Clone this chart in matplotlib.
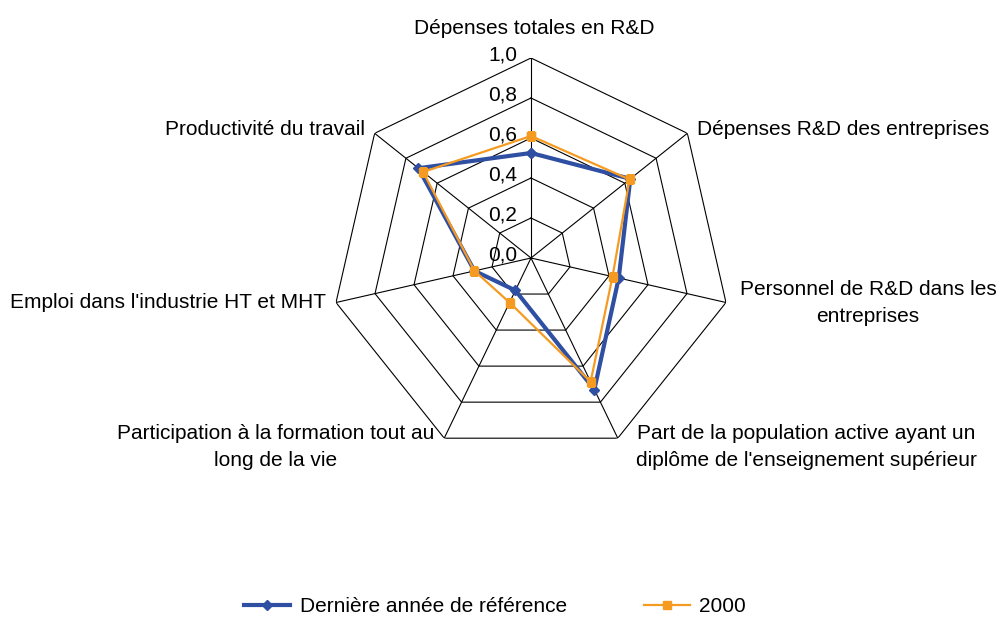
import numpy as np
import matplotlib
matplotlib.use("Agg")
import matplotlib.pyplot as plt
from matplotlib.lines import Line2D

plt.rcParams['font.family'] = ['Liberation Sans', 'DejaVu Sans']

# ---------------- Data ----------------
categories = [
    "Dépenses totales en R&D",
    "Dépenses R&D des entreprises",
    "Personnel de R&D dans les\nentreprises",
    "Part de la population active ayant un\ndiplôme de l'enseignement supérieur",
    "Participation à la formation tout au\nlong de la vie",
    "Emploi dans l'industrie HT et MHT",
    "Productivité du travail",
]
derniere = [0.525, 0.635, 0.45, 0.73, 0.18, 0.29, 0.72]
an2000 = [0.61, 0.63, 0.418, 0.687, 0.247, 0.29, 0.69]
rings = [0.2, 0.4, 0.6, 0.8, 1.0]
tick_labels = ["0,0", "0,2", "0,4", "0,6", "0,8", "1,0"]

BLUE = "#2F4FA2"
ORANGE = "#F59B22"
FS = 15

# ---------------- Figure ----------------
fig = plt.figure(figsize=(10.01, 6.17), dpi=100)
cx, cy, R = 531 / 1001, 1 - 258 / 617, 200
w, h = 2 * R / 1001, 2 * R / 617
ax = fig.add_axes([cx - w / 2, cy - h / 2, w, h], projection="polar")
ax.set_theta_offset(np.pi / 2)
ax.set_theta_direction(-1)
ax.set_ylim(0, 1)
ax.grid(False)
ax.spines["polar"].set_visible(False)
ax.set_xticks([])
ax.set_yticks([])
ax.patch.set_alpha(0)

n = len(categories)
angles = np.arange(n) * 2 * np.pi / n
closed = np.append(angles, angles[0])

# heptagon grid
for r in rings:
    ax.plot(closed, [r] * (n + 1), color="black", lw=0.8, zorder=1)
for a in angles:
    ax.plot([a, a], [0, 1], color="black", lw=0.8, zorder=1)

# value labels along the top spoke
for i, lab in enumerate(tick_labels):
    ax.annotate(lab, xy=(0, i * 0.2), xytext=(-10, 2), textcoords="offset points",
                ha="right", va="center", fontsize=FS)

# series
ax.plot(closed, np.append(derniere, derniere[0]), color=BLUE, lw=3,
        marker="D", ms=5, zorder=3)
ax.plot(closed, np.append(an2000, an2000[0]), color=ORANGE, lw=1.6,
        marker="s", ms=6, zorder=4)

# category labels (pixel positions, top-left origin)
label_pos = [
    (534, 28, "center"),
    (697, 130, "left"),
    (868, 303, "center"),
    (806, 447, "center"),
    (276, 447, "center"),
    (326, 303, "right"),
    (365, 130, "right"),
]
for lab, (x, y, ha) in zip(categories, label_pos):
    fig.text(x / 1001, 1 - y / 617, lab, ha=ha, va="center", fontsize=FS,
             linespacing=1.55, multialignment=ha)

# legend
handles = [
    Line2D([], [], color=BLUE, lw=3, marker="D", ms=5),
    Line2D([], [], color=ORANGE, lw=1.6, marker="s", ms=6),
]
fig.legend(handles, ["Dernière année de référence", "2000"], ncol=2,
           loc="center", bbox_to_anchor=(495 / 1001, 1 - 607 / 617),
           frameon=False, fontsize=FS, handlelength=2.2, handletextpad=0.45,
           columnspacing=3.7)

fig.savefig("out.png", dpi=100)
